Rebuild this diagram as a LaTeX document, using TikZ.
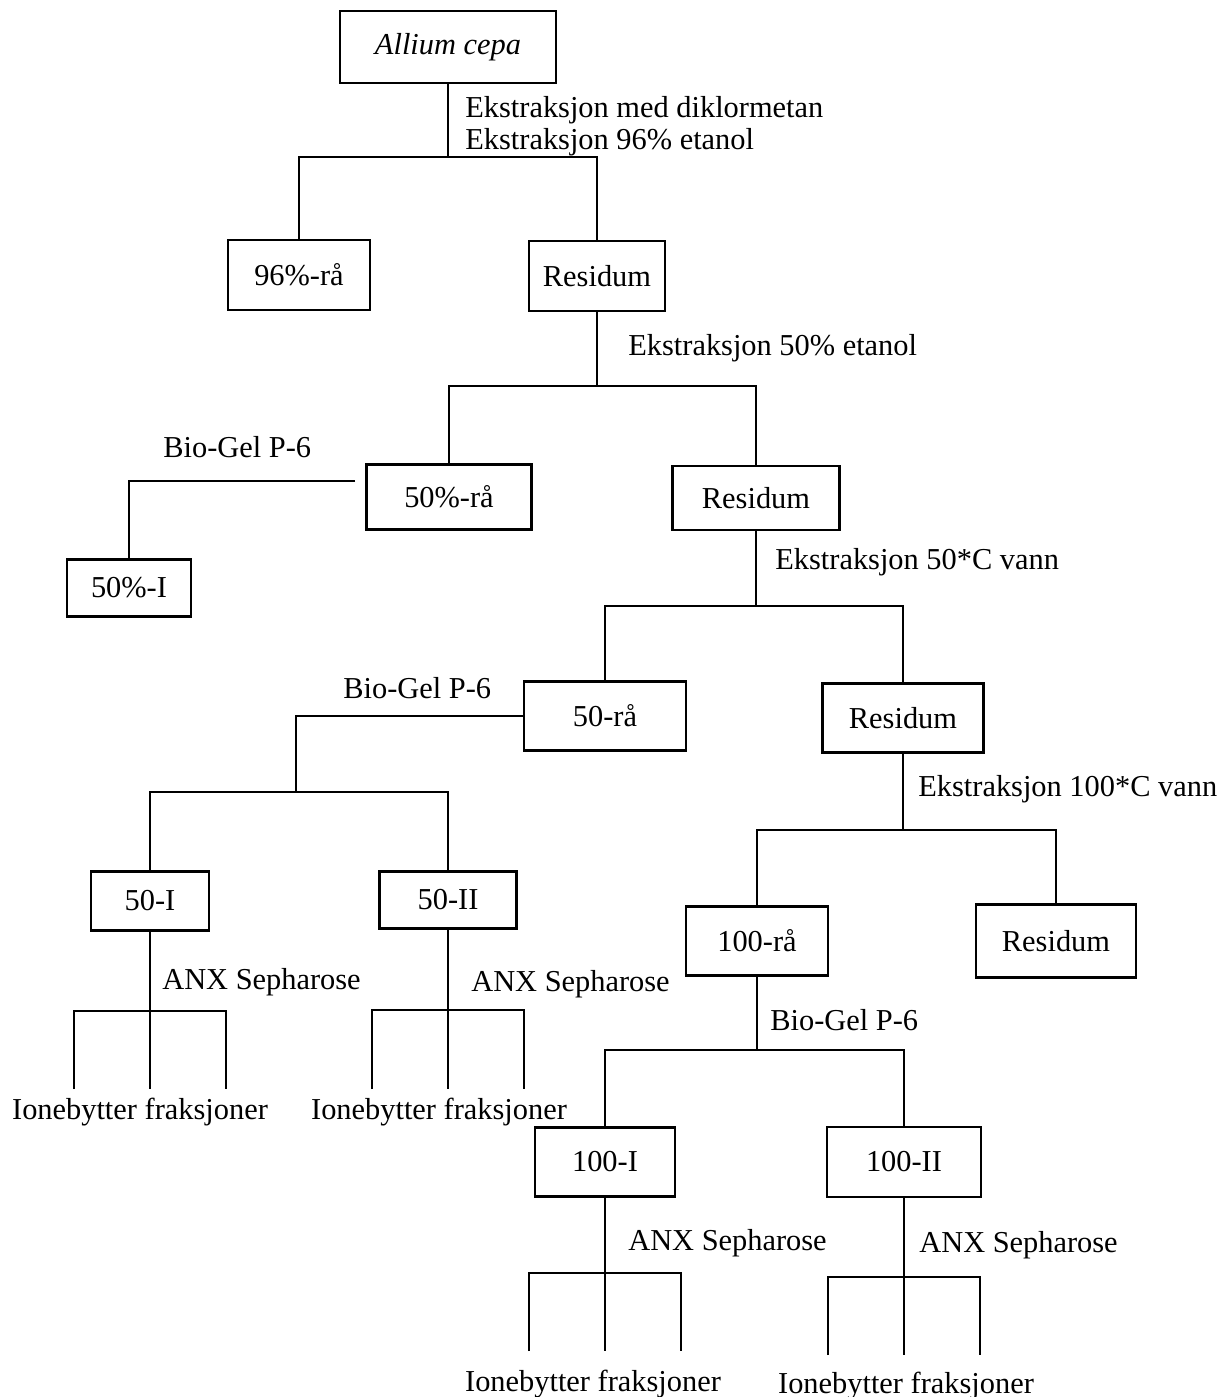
\documentclass[tikz,border=0pt]{standalone}
\usepackage{fontspec}
\setmainfont{Liberation Serif}

\begin{document}
\begin{tikzpicture}[
    x=0.02cm, y=-0.02cm,
    font=\fontsize{17.3}{18.2}\selectfont,
    block/.style={rectangle, draw, line width=1.4pt, inner sep=0pt},
    link/.style={line width=1.4pt},
    lbl/.style={anchor=base west, inner sep=0pt, align=left},
    ion/.style={anchor=base, inner sep=0pt}
]
    \useasboundingbox (0,0) rectangle (1227,1397);

    % boxes
    \node[block, minimum width=4.32cm, minimum height=1.44cm] (allium) at (448,47) {\textit{Allium cepa}};
    \node[block, minimum width=2.84cm, minimum height=1.40cm] (raa96) at (299,275) {96\%-rå};
    \node[block, minimum width=2.72cm, minimum height=1.40cm] (res1) at (597,276) {Residum};
    \node[block, minimum width=3.30cm, minimum height=1.30cm] (raa50) at (449,497) {50\%-rå};
    \node[block, minimum width=3.34cm, minimum height=1.28cm] (res2) at (756,498) {Residum};
    \node[block, minimum width=2.48cm, minimum height=1.14cm] (pctI) at (129,588) {50\%-I};
    \node[block, minimum width=3.24cm, minimum height=1.38cm] (raaV) at (605,716) {50-rå};
    \node[block, minimum width=3.22cm, minimum height=1.38cm] (res3) at (903,718) {Residum};
    \node[block, minimum width=2.36cm, minimum height=1.18cm] (fiftyI) at (150,901) {50-I};
    \node[block, minimum width=2.74cm, minimum height=1.14cm] (fiftyII) at (448,900) {50-II};
    \node[block, minimum width=2.84cm, minimum height=1.38cm] (raaC) at (757,941) {100-rå};
    \node[block, minimum width=3.20cm, minimum height=1.46cm] (res4) at (1056,941) {Residum};
    \node[block, minimum width=2.80cm, minimum height=1.38cm] (hundI) at (605,1162) {100-I};
    \node[block, minimum width=3.08cm, minimum height=1.40cm] (hundII) at (904,1162) {100-II};

    % step labels
    \node[lbl] (ext1) at (465,149) {Ekstraksjon med diklormetan\\Ekstraksjon 96\% etanol};
    \node[lbl] (ext2) at (628,355) {Ekstraksjon 50\% etanol};
    \node[lbl] (ext3) at (775,569) {Ekstraksjon 50*C vann};
    \node[lbl] (ext4) at (918,796) {Ekstraksjon 100*C vann};
    \node[lbl] (bio1) at (163,457) {Bio-Gel P-6};
    \node[lbl] (bio2) at (343,698) {Bio-Gel P-6};
    \node[lbl] (bio3) at (770,1030) {Bio-Gel P-6};
    \node[lbl] (anx1) at (162,989) {ANX Sepharose};
    \node[lbl] (anx2) at (471,991) {ANX Sepharose};
    \node[lbl] (anx3) at (628,1250) {ANX Sepharose};
    \node[lbl] (anx4) at (919,1252) {ANX Sepharose};

    % fractions
    \node[ion] (ionA) at (140,1119) {Ionebytter fraksjoner};
    \node[ion] (ionB) at (439,1119) {Ionebytter fraksjoner};
    \node[ion] (ionC) at (593,1391) {Ionebytter fraksjoner};
    \node[ion] (ionD) at (906,1393) {Ionebytter fraksjoner};

    % extraction tree
    \coordinate (j1) at (448,157);
    \draw[link] (allium) -- (j1);
    \draw[link] (raa96) |- (j1) -| (res1);
    \coordinate (j2) at (597,386);
    \draw[link] (res1) -- (j2);
    \draw[link] (raa50) |- (j2) -| (res2);
    \coordinate (j3) at (756,606);
    \draw[link] (res2) -- (j3);
    \draw[link] (raaV) |- (j3) -| (res3);
    \coordinate (j5) at (903,830);
    \draw[link] (res3) -- (j5);
    \draw[link] (raaC) |- (j5) -| (res4);
    \coordinate (j6) at (757,1050);
    \draw[link] (raaC) -- (j6);
    \draw[link] (hundI) |- (j6) -| (hundII);

    % gel filtration
    \coordinate (b1) at (355,481);
    \draw[link] (b1) -| (pctI);
    \coordinate (j4) at (296,792);
    \draw[link] (raaV) -| (j4);
    \draw[link] (fiftyI) |- (j4) -| (fiftyII);

    % ion exchange
    \coordinate (a1) at (150,1011);
    \coordinate (a1l) at (74,1089); \coordinate (a1m) at (150,1089); \coordinate (a1r) at (226,1089);
    \draw[link] (fiftyI) -- (a1m);
    \draw[link] (a1l) |- (a1) -| (a1r);
    \coordinate (a2) at (448,1010);
    \coordinate (a2l) at (372,1089); \coordinate (a2m) at (448,1089); \coordinate (a2r) at (524,1089);
    \draw[link] (fiftyII) -- (a2m);
    \draw[link] (a2l) |- (a2) -| (a2r);
    \coordinate (a3) at (605,1273);
    \coordinate (a3l) at (529,1351); \coordinate (a3m) at (605,1351); \coordinate (a3r) at (681,1351);
    \draw[link] (hundI) -- (a3m);
    \draw[link] (a3l) |- (a3) -| (a3r);
    \coordinate (a4) at (904,1277);
    \coordinate (a4l) at (828,1355); \coordinate (a4m) at (904,1355); \coordinate (a4r) at (980,1355);
    \draw[link] (hundII) -- (a4m);
    \draw[link] (a4l) |- (a4) -| (a4r);
\end{tikzpicture}
\end{document}
